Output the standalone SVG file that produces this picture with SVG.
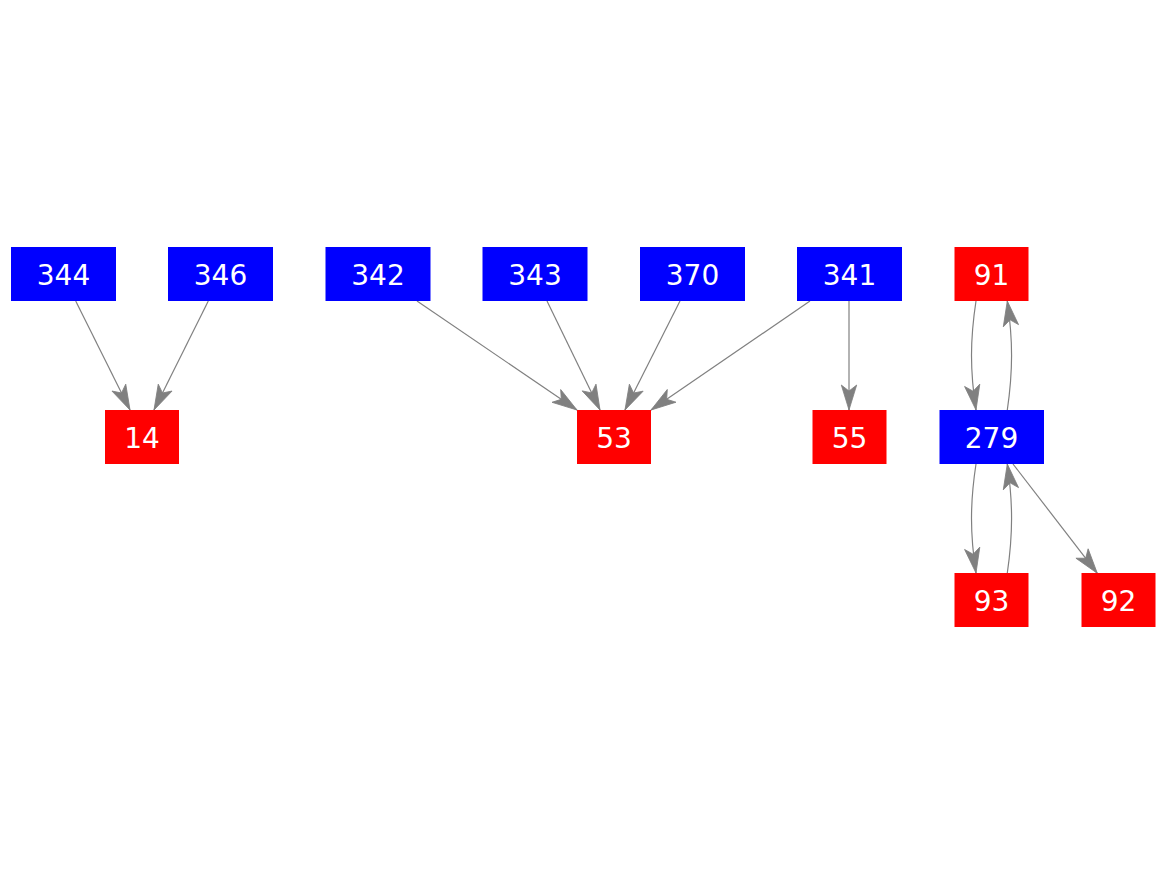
<svg xmlns="http://www.w3.org/2000/svg" width="1167" height="875" viewBox="0 0 1167 875">
<style>
.b{fill:#0000ff}
.r{fill:#ff0000}
.t{fill:#ffffff;font-family:"DejaVu Sans",sans-serif;font-size:28px;text-anchor:middle}
.e{fill:none;stroke:#808080;stroke-width:1.2;marker-end:url(#a)}
</style>
<defs>
<marker id="a" markerUnits="userSpaceOnUse" markerWidth="40" markerHeight="40" refX="30" refY="20" orient="auto" overflow="visible">
<path d="M30,20 L5,12.3 L11,20 L5,27.7 Z" fill="#808080" stroke="#808080" stroke-width="0.8"/>
</marker>
</defs>
<rect width="1167" height="875" fill="#ffffff"/>
<g id="edges">
<path class="e" d="M75.7,301 L130,410"/>
<path class="e" d="M208.3,301 L154,410"/>
<path class="e" d="M417,301 L577,410"/>
<path class="e" d="M547,301 L600,410"/>
<path class="e" d="M680,301 L625,410"/>
<path class="e" d="M810,301 L651,410"/>
<path class="e" d="M849,301 L849,410"/>
<path class="e" d="M976,301 C970,340 970,371 976,410"/>
<path class="e" d="M1007.3,410 C1013,371 1013,340 1007.3,301"/>
<path class="e" d="M976,464 C970,503 970,534 976,573"/>
<path class="e" d="M1007.3,573 C1013,534 1013,503 1007.3,464"/>
<path class="e" d="M1013,464 L1097.3,573.3"/>
</g>
<g id="n344"><rect class="b" x="11" y="247" width="105" height="54"/><text class="t" x="63.5" y="284.5">344</text></g>
<g id="n346"><rect class="b" x="168" y="247" width="105" height="54"/><text class="t" x="220.5" y="284.5">346</text></g>
<g id="n342"><rect class="b" x="325.5" y="247" width="105" height="54"/><text class="t" x="378" y="284.5">342</text></g>
<g id="n343"><rect class="b" x="482.5" y="247" width="105" height="54"/><text class="t" x="535" y="284.5">343</text></g>
<g id="n370"><rect class="b" x="640" y="247" width="105" height="54"/><text class="t" x="692.5" y="284.5">370</text></g>
<g id="n341"><rect class="b" x="797" y="247" width="105" height="54"/><text class="t" x="849.5" y="284.5">341</text></g>
<g id="n91"><rect class="r" x="954.5" y="247" width="74" height="54"/><text class="t" x="991.5" y="284.5">91</text></g>
<g id="n14"><rect class="r" x="105" y="410" width="74" height="54"/><text class="t" x="142" y="447.5">14</text></g>
<g id="n53"><rect class="r" x="577" y="410" width="74" height="54"/><text class="t" x="614" y="447.5">53</text></g>
<g id="n55"><rect class="r" x="812.5" y="410" width="74" height="54"/><text class="t" x="849.5" y="447.5">55</text></g>
<g id="n279"><rect class="b" x="939.5" y="410" width="104.5" height="54"/><text class="t" x="991.5" y="447.5">279</text></g>
<g id="n93"><rect class="r" x="954.5" y="573" width="74" height="54"/><text class="t" x="991.5" y="610.5">93</text></g>
<g id="n92"><rect class="r" x="1081.5" y="573" width="74" height="54"/><text class="t" x="1118.5" y="610.5">92</text></g>
</svg>
